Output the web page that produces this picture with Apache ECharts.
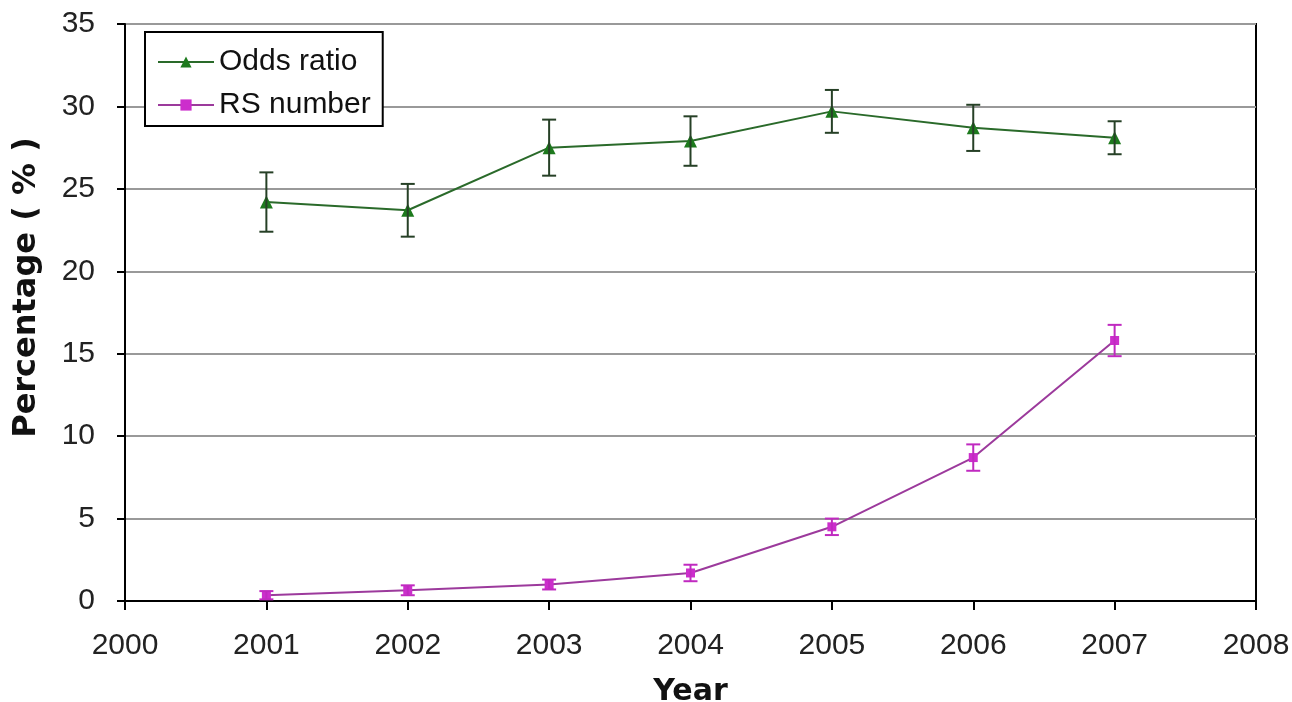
<!DOCTYPE html>
<html>
<head>
<meta charset="utf-8">
<script src="https://cdn.jsdelivr.net/npm/echarts@6/dist/echarts.min.js"></script>
<style>html,body{margin:0;padding:0;background:#fff;}#c{width:1292px;height:702px;}</style>
</head>
<body>
<div id="c"></div>
<script>
const years = [2001, 2002, 2003, 2004, 2005, 2006, 2007];
const oddsRatio = [24.2, 23.7, 27.5, 27.9, 29.7, 28.7, 28.1];
const oddsErr = [1.8, 1.6, 1.7, 1.5, 1.3, 1.4, 1.0];
const rsNumber = [0.35, 0.65, 1.0, 1.7, 4.5, 8.7, 15.8];
const rsErr = [0.25, 0.3, 0.3, 0.5, 0.5, 0.8, 0.95];
const xTicks = [2000, 2001, 2002, 2003, 2004, 2005, 2006, 2007, 2008];
const yTicks = [0, 5, 10, 15, 20, 25, 30, 35];

const GREEN = '#1d7a1d', GREEN_LINE = '#2a6a2a', GREEN_ERR = '#264026';
const MAG = '#cc2ecc', MAG_LINE = '#9c3a9c', MAG_ERR = '#c02ac0';

function errData(vals, errs) {
  return years.map((y, i) => [y, vals[i] - errs[i], vals[i] + errs[i]]);
}
function errRender(color) {
  return function (params, api) {
    const x = api.value(0);
    const lo = api.coord([x, api.value(1)]);
    const hi = api.coord([x, api.value(2)]);
    const w = 7;
    const style = { stroke: color, lineWidth: 2, fill: null };
    return {
      type: 'group',
      children: [
        { type: 'line', shape: { x1: lo[0], y1: lo[1], x2: hi[0], y2: hi[1] }, style },
        { type: 'line', shape: { x1: lo[0] - w, y1: lo[1], x2: lo[0] + w, y2: lo[1] }, style },
        { type: 'line', shape: { x1: hi[0] - w, y1: hi[1], x2: hi[0] + w, y2: hi[1] }, style }
      ]
    };
  };
}

const chart = echarts.init(document.getElementById('c'));
chart.setOption({
  animation: false,
  backgroundColor: '#fff',
  grid: { left: 125, right: 36, top: 24, bottom: 101, outerBoundsMode: 'none', containLabel: false,
          show: true, borderColor: '#000', borderWidth: 2, backgroundColor: 'transparent' },
  legend: {
    left: 145, top: 32, orient: 'vertical',
    borderColor: '#000', borderWidth: 2, backgroundColor: '#fff',
    padding: [15, 12, 6, 12], itemGap: 13, itemWidth: 56, itemHeight: 14,
    textStyle: { fontFamily: 'Liberation Sans', fontSize: 30, color: '#111' },
    data: ['Odds ratio', 'RS number']
  },
  xAxis: {
    type: 'value', min: xTicks[0], max: xTicks[xTicks.length - 1], interval: 1,
    name: 'Year', nameLocation: 'middle', nameGap: 76,
    nameTextStyle: { fontFamily: 'DejaVu Sans', fontWeight: 'bold', fontSize: 30, color: '#111' },
    axisLine: { show: true, onZero: false, lineStyle: { color: '#000', width: 2 } },
    axisTick: { show: true, inside: false, length: 9, lineStyle: { color: '#000', width: 2 } },
    axisLabel: { fontFamily: 'Liberation Sans', fontSize: 30, color: '#222', margin: 30, formatter: v => String(v) },
    splitLine: { show: false }
  },
  yAxis: {
    type: 'value', min: yTicks[0], max: yTicks[yTicks.length - 1], interval: 5,
    name: 'Percentage ( % )', nameLocation: 'middle', nameGap: 82, nameRotate: 90,
    nameTextStyle: { fontFamily: 'DejaVu Sans', fontWeight: 'bold', fontSize: 32, color: '#111', padding: [0, 0, 0, 50] },
    axisLine: { show: true, lineStyle: { color: '#000', width: 2 } },
    axisTick: { show: true, inside: false, length: 8, lineStyle: { color: '#000', width: 2 } },
    axisLabel: { fontFamily: 'Liberation Sans', fontSize: 30, color: '#222', margin: 30, formatter: v => String(v) },
    splitLine: { show: true, lineStyle: { color: '#999', width: 2 } }
  },
  series: [
    {
      name: 'Odds ratio', type: 'line', data: years.map((y, i) => [y, oddsRatio[i]]),
      symbol: 'triangle', symbolSize: 13,
      itemStyle: { color: GREEN }, lineStyle: { color: GREEN_LINE, width: 2 }, z: 3
    },
    {
      name: 'RS number', type: 'line', data: years.map((y, i) => [y, rsNumber[i]]),
      symbol: 'rect', symbolSize: 9,
      itemStyle: { color: MAG }, lineStyle: { color: MAG_LINE, width: 2 }, z: 3
    },
    { type: 'custom', renderItem: errRender(GREEN_ERR), data: errData(oddsRatio, oddsErr), z: 4, silent: true },
    { type: 'custom', renderItem: errRender(MAG_ERR), data: errData(rsNumber, rsErr), z: 4, silent: true }
  ]
});
</script>
</body>
</html>
